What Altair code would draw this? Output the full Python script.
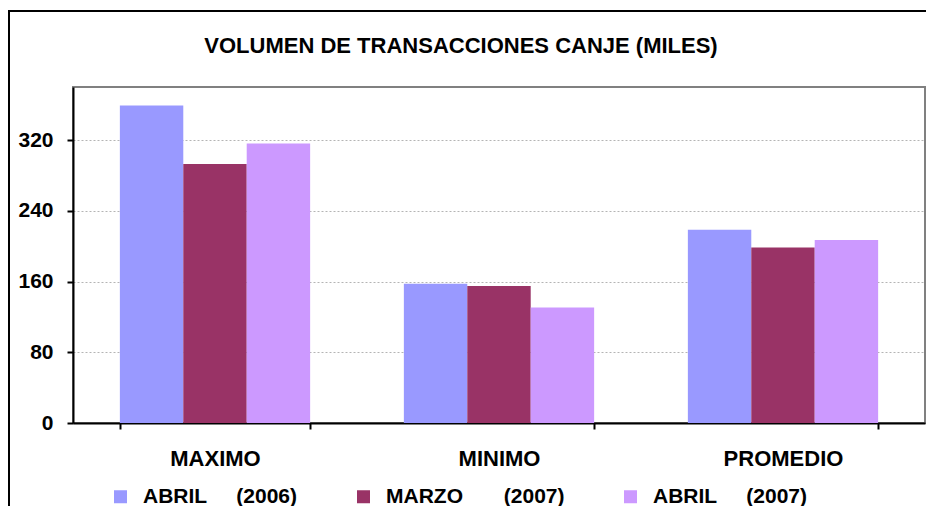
import altair as alt
import pandas as pd

NB = "\u00a0"
title_text = "VOLUMEN DE TRANSACCIONES CANJE (MILES)"
categories = ["MAXIMO", "MINIMO", "PROMEDIO"]
series = [
    "ABRIL" + NB * 5 + "(2006)",
    "MARZO" + NB * 7 + "(2007)",
    "ABRIL" + NB * 5 + "(2007)",
]
abril_2006 = [359, 157.5, 218.5]
marzo_2007 = [293, 155, 198.5]
abril_2007 = [316, 130.5, 207]
colors = ["#9999FF", "#993366", "#CC99FF"]
y_ticks = [0, 80, 160, 240, 320]

FONT = "Liberation Sans"

rows = []
for s, vals in zip(series, [abril_2006, marzo_2007, abril_2007]):
    for c, v in zip(categories, vals):
        rows.append({"categoria": c, "serie": s, "valor": v})
df = pd.DataFrame(rows)

frame = alt.Chart(pd.DataFrame({"k": [0]})).mark_rect(
    fillOpacity=0, stroke="black", strokeWidth=2
).encode(
    x=alt.value(-64), x2=alt.value(900), y=alt.value(-76), y2=alt.value(460)
)

bars = alt.Chart(df).mark_bar().encode(
    x=alt.X(
        "categoria:N",
        sort=categories,
        scale=alt.Scale(paddingInner=0.33, paddingOuter=0.165),
        axis=alt.Axis(
            title=None, labelAngle=0, tickBand="extent", ticks=True,
            tickSize=6, labelPadding=19, labelFontSize=22, grid=False,
        ),
    ),
    xOffset=alt.XOffset("serie:N", sort=series,
                        scale=alt.Scale(paddingInner=0, paddingOuter=0)),
    y=alt.Y(
        "valor:Q",
        scale=alt.Scale(domain=[0, 380], nice=False, zero=True),
        axis=alt.Axis(
            title=None, values=y_ticks, tickSize=6, labelPadding=14,
            grid=True, gridColor="#b4b4b4", gridDash=[2, 2], gridWidth=1,
        ),
    ),
    color=alt.Color(
        "serie:N",
        sort=series,
        scale=alt.Scale(domain=series, range=colors),
        legend=alt.Legend(
            title=None, orient="none", legendX=37, legendY=399,
            direction="horizontal", columns=3, symbolType="square",
            symbolSize=169, symbolStrokeWidth=0, symbolOpacity=1,
            labelFont=FONT, labelFontSize=21, labelFontWeight="bold",
            labelColor="black", labelOffset=12, columnPadding=55,
            padding=0, labelLimit=500,
        ),
    ),
)

chart = alt.layer(frame, bars).properties(
    width=852,
    height=336,
    autosize=alt.AutoSizeParams(type="none"),
    padding={"left": 65, "top": 79, "right": 1, "bottom": 83},
    background="white",
    title=alt.Title(
        title_text, font=FONT, fontSize=22, fontWeight="bold", color="black",
        anchor="middle", frame="group", dx=-38, offset=-65,
        baseline="alphabetic",
    ),
).configure_view(
    stroke="#808080", strokeWidth=2
).configure_axis(
    domainColor="black", domainWidth=2, tickColor="black", tickWidth=2,
    labelFont=FONT, labelFontSize=21, labelFontWeight="bold",
    labelColor="black",
)

chart.save("out.html", embed_options={"renderer": "svg", "actions": False})
